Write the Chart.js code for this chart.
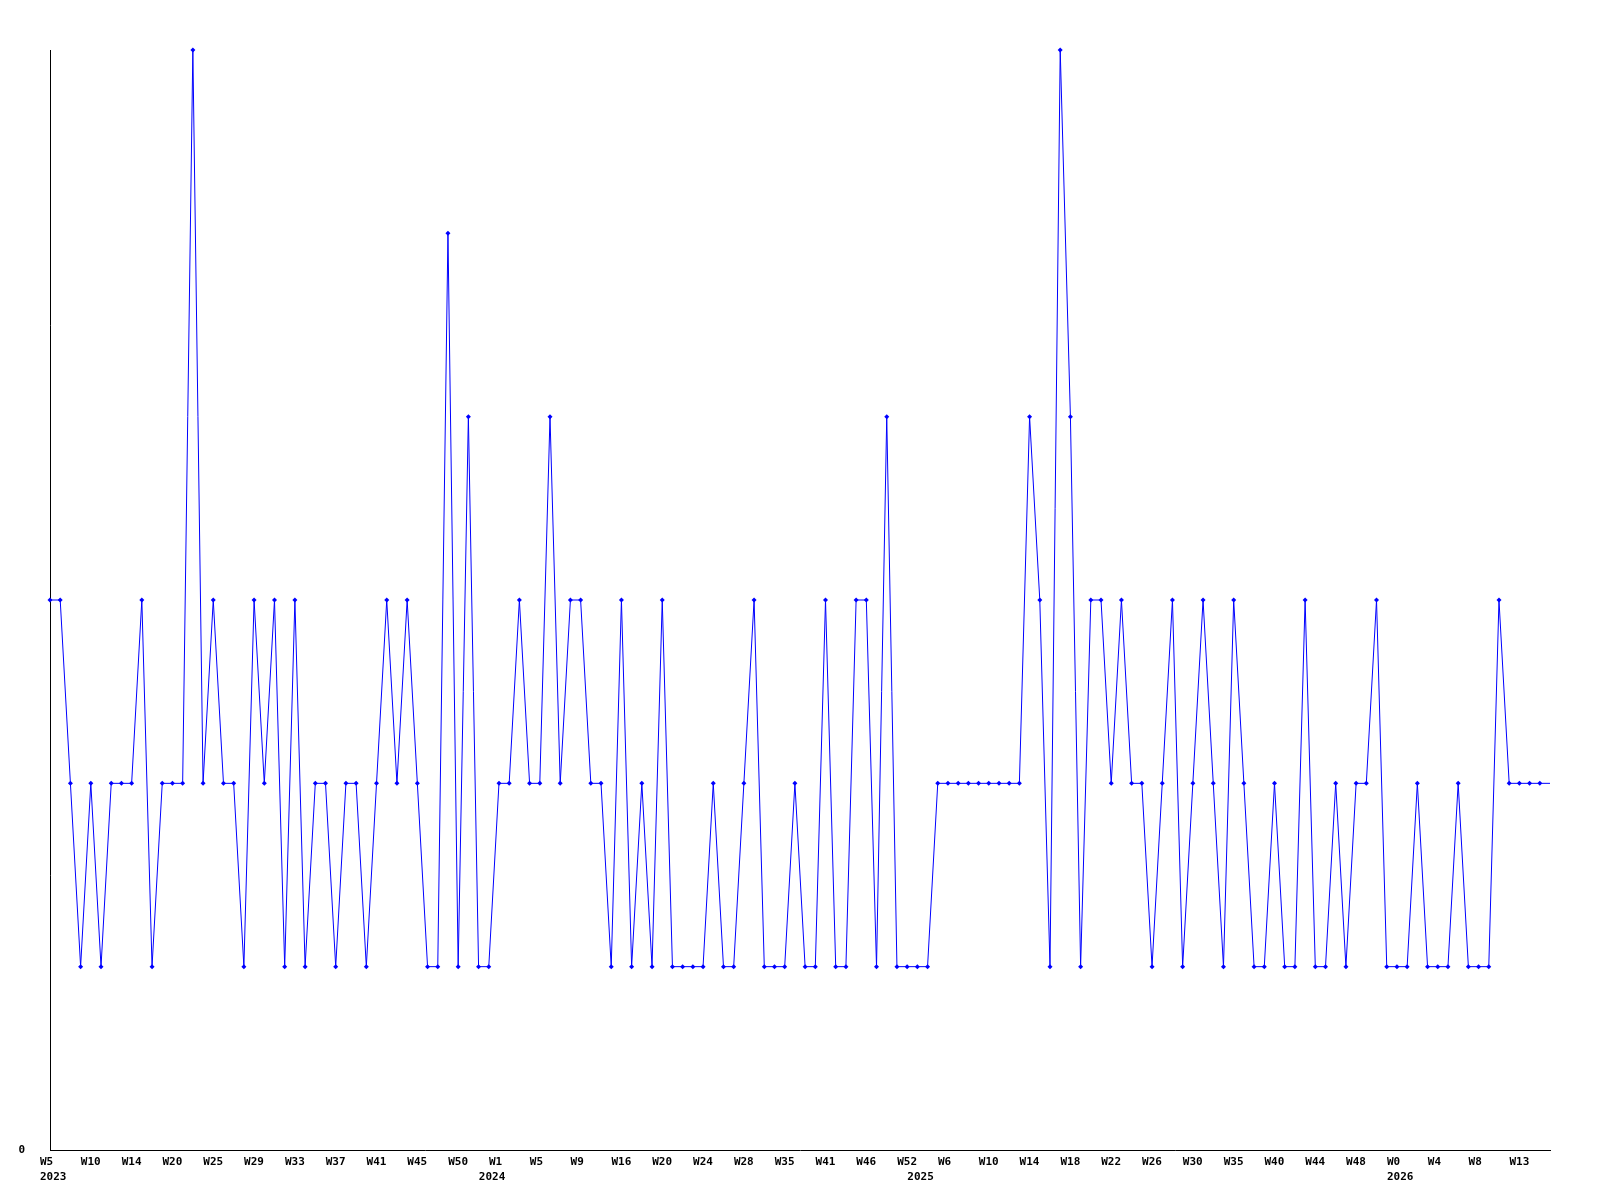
<!DOCTYPE html>
<html>
<head>
<meta charset="utf-8">
<script src="https://cdn.jsdelivr.net/npm/chart.js@4"></script>
<style>
  body { margin: 0; background: #fff; }
  #wrap { width: 1600px; height: 1200px; }
</style>
</head>
<body>
<div id="wrap"><canvas id="weekChart"></canvas></div>
<script>
// week labels shown under every 4th point
const weekTicks = ['W5', 'W10', 'W14', 'W20', 'W25', 'W29', 'W33', 'W37', 'W41', 'W45', 'W50',
  'W1', 'W5', 'W9', 'W16', 'W20', 'W24', 'W28', 'W35', 'W41', 'W46', 'W52',
  'W6', 'W10', 'W14', 'W18', 'W22', 'W26', 'W30', 'W35', 'W40', 'W44', 'W48',
  'W0', 'W4', 'W8', 'W13']
const yearNames = ['2023', '2024', '2025', '2026']
const yearStart = [0, 43, 85, 132]   // index of first point in each year

const counts = [
  3, 3, 2, 1, 2, 1, 2, 2, 2, 3, 1, 2, 2, 2,
  6,
  2, 3, 2, 2, 1, 3, 2, 3, 1, 3, 1, 2, 2, 1, 2, 2, 1, 2, 3, 2,
  3, 2, 1, 1, 5, 1, 4, 1, 1, 2, 2, 3, 2, 2, 4, 2, 3, 3, 2, 2, 1, 3, 1, 2, 1, 3, 1, 1, 1, 1, 2, 1, 1, 2, 3, 1, 1, 1,
  2, 1, 1, 3, 1, 1, 3, 3, 1, 4, 1, 1, 1, 1, 2, 2, 2, 2, 2, 2, 2, 2, 2, 4, 3, 1,
  6, 4, 1, 3, 3, 2, 3, 2, 2, 1, 2, 3, 1, 2, 3, 2, 1, 3, 2, 1, 1, 2, 1, 1, 3,
  1, 1, 2, 1, 2, 2, 3, 1, 1, 1, 2, 1, 1, 1, 2, 1, 1, 1, 3, 2, 2, 2, 2, 2
]

const labels = counts.map((c, i) => i % 4 === 0 ? weekTicks[i / 4] : '')
const tickFont = { family: 'DejaVu Sans Mono', size: 11, weight: 'bold', lineHeight: 1.4 }

const ctx = document.getElementById('weekChart')
new Chart(ctx, {
  type: 'line',
  data: {
    labels: labels,
    datasets: [{
      data: counts,
      borderColor: '#0000ff',
      backgroundColor: '#0000ff',
      borderWidth: 1,
      tension: 0,
      pointStyle: 'rectRot',
      pointRadius: c => c.dataIndex === counts.length - 1 ? 0 : 2.5,
      pointBorderWidth: 0,
      clip: false
    }]
  },
  options: {
    responsive: true,
    maintainAspectRatio: false,
    animation: false,
    layout: { padding: { top: 50, right: 50, left: 0, bottom: 0 } },
    plugins: { legend: { display: false }, tooltip: { enabled: false } },
    scales: {
      x: {
        grid: { display: false, drawTicks: false },
        border: { display: true, color: '#000', width: 1 },
        afterFit: s => { s.height = 50 },
        ticks: {
          autoSkip: false,
          maxRotation: 0,
          minRotation: 0,
          align: 'start',
          labelOffset: -10,
          padding: 4,
          color: '#000',
          font: tickFont,
          callback: (v, i) => {
            const y = yearStart.indexOf(i)
            return y >= 0 ? [labels[i], yearNames[y]] : labels[i]
          }
        }
      },
      y: {
        min: 0,
        max: 6,
        grid: { display: false, drawTicks: false },
        border: { display: true, color: '#000', width: 1 },
        afterFit: s => { s.width = 50 },
        ticks: {
          stepSize: 1,
          padding: 25,
          color: '#000',
          font: tickFont,
          callback: v => v === 0 ? '0' : ''
        }
      }
    }
  }
})
</script>
</body>
</html>
